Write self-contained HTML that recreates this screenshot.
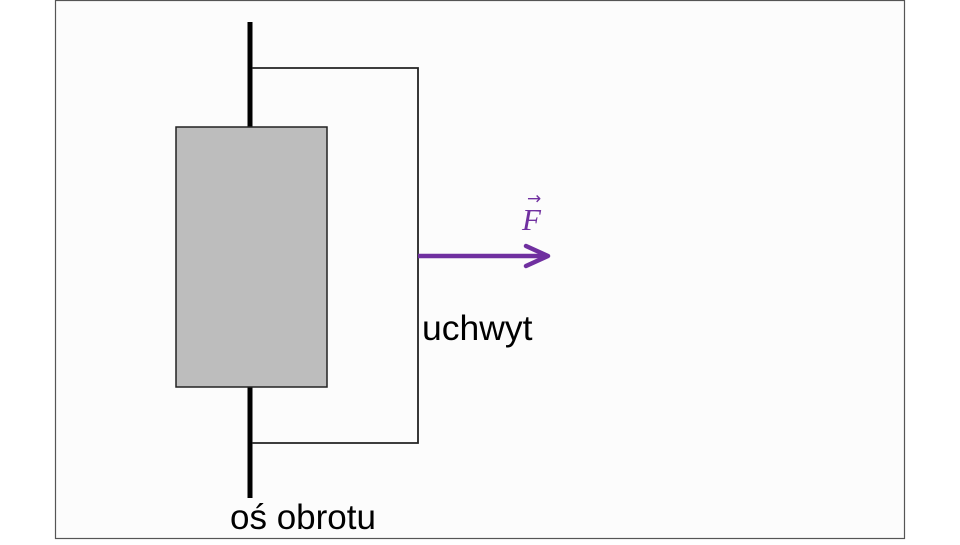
<!DOCTYPE html>
<html><head><meta charset="utf-8"><style>
html,body{margin:0;padding:0;background:#fff;}
body{width:960px;height:540px;overflow:hidden;position:relative;}
</style></head><body>
<svg width="960" height="540" viewBox="0 0 960 540" xmlns="http://www.w3.org/2000/svg">
<rect x="0" y="0" width="960" height="540" fill="#fff"/>
<rect x="55.5" y="0.5" width="849" height="538" fill="#fcfcfc" stroke="#555" stroke-width="1.2"/>
<line x1="250" y1="22" x2="250" y2="498" stroke="#000" stroke-width="5"/>
<polyline points="252,68 418,68 418,443 252,443" fill="none" stroke="#222" stroke-width="1.8"/>
<rect x="176" y="127" width="151" height="260" fill="#bdbdbd" stroke="#222" stroke-width="1.5"/>
<line x1="418" y1="256" x2="546" y2="256" stroke="#7030a0" stroke-width="4.5"/>
<polyline points="526,246 548,256 526,266" fill="none" stroke="#7030a0" stroke-width="4.5" stroke-linecap="round" stroke-linejoin="round"/>
<text x="522" y="230" font-family="Liberation Serif, serif" font-style="italic" font-size="31" fill="#7030a0">F</text>
<text x="527" y="204" font-family="DejaVu Sans, sans-serif" font-size="17" fill="#7030a0">→</text>
<text x="422" y="340" font-family="Liberation Sans, sans-serif" font-size="35.5" fill="#000">uchwyt</text>
<text x="230" y="529" font-family="Liberation Sans, sans-serif" font-size="35" fill="#000">oś obrotu</text>
</svg>
</body></html>
